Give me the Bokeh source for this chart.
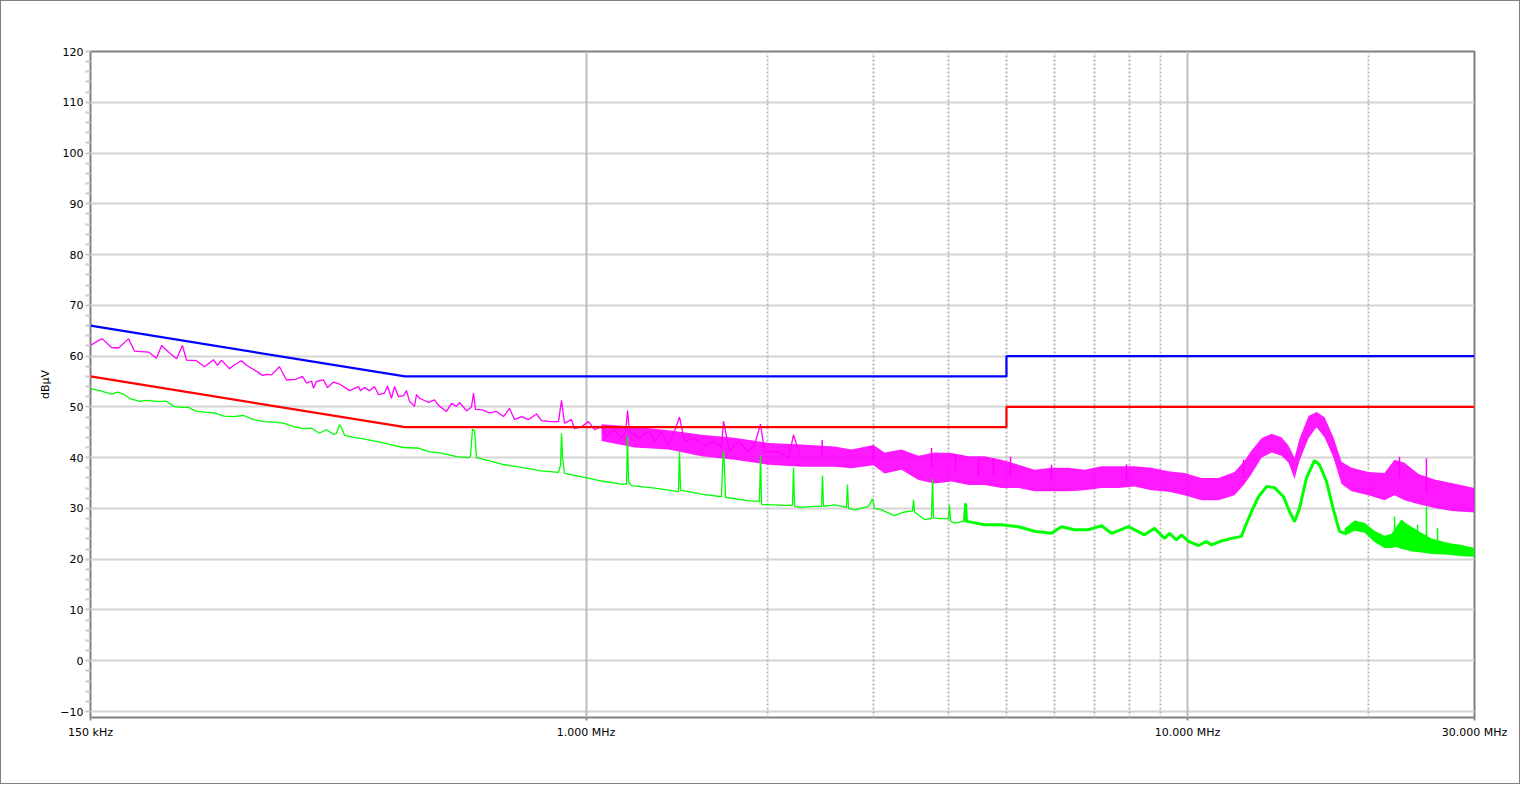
import numpy as np
from bokeh.plotting import figure
from bokeh.models import Range1d, FixedTicker, Grid
from bokeh.embed import file_html
from bokeh.resources import INLINE

# ---------------- data (frequency in MHz, level in dBµV) ----------------
QP_LIMIT_F = [0.15, 0.5, 5.0, 5.0, 30.0]
QP_LIMIT_V = [66.0, 56.0, 56.0, 60.0, 60.0]
AV_LIMIT_F = [0.15, 0.5, 5.0, 5.0, 30.0]
AV_LIMIT_V = [56.0, 46.0, 46.0, 50.0, 50.0]

# Peak trace (magenta), single sweep line
PK_F = [0.1500, 0.1553, 0.1570, 0.1626, 0.1670, 0.1735, 0.1775, 0.1873, 0.1931, 0.1969,
        0.2022, 0.2085, 0.2133, 0.2166, 0.2251, 0.2321, 0.2402, 0.2439, 0.2477, 0.2554,
        0.2603, 0.2674, 0.2726, 0.2832, 0.2898, 0.2942, 0.2999, 0.3092, 0.3177, 0.3288,
        0.3377, 0.3429, 0.3496, 0.3522, 0.3563, 0.3660, 0.3717, 0.3803, 0.3891, 0.4043,
        0.4185, 0.4217, 0.4282, 0.4365, 0.4449, 0.4518, 0.4623, 0.4676, 0.4748, 0.4803,
        0.4877, 0.4971, 0.5029, 0.5087, 0.5185, 0.5225, 0.5285, 0.5471, 0.5598, 0.5685,
        0.5861, 0.5975, 0.6090, 0.6160, 0.6328, 0.6450, 0.6500, 0.6549, 0.6727, 0.6908,
        0.7098, 0.7290, 0.7460, 0.7604, 0.7811, 0.8023, 0.8272, 0.8432, 0.8761, 0.8999,
        0.9103, 0.9208, 0.9458, 0.9567, 0.9828, 1.0094, 1.0329, 1.0610, 1.0814, 1.1151,
        1.1454, 1.1630, 1.1721, 1.1809, 1.2224, 1.2701, 1.2996, 1.3349, 1.3712, 1.4030,
        1.4301, 1.4578, 1.5146, 1.5737, 1.6352, 1.6796, 1.6925, 1.7318, 1.7926, 1.8625,
        1.9057, 1.9501, 1.9801, 2.0892, 2.1708, 2.2126, 2.2640]
PK_V = [62.1, 63.2, 63.4, 61.7, 61.6, 63.4, 61.0, 60.8, 59.6, 62.1,
        60.8, 59.5, 62.1, 59.2, 59.1, 57.9, 59.3, 58.2, 59.2, 57.5,
        58.3, 59.1, 58.2, 57.0, 56.2, 56.4, 56.3, 57.9, 55.3, 55.4,
        56.0, 54.7, 55.1, 53.7, 55.0, 55.3, 53.8, 54.9, 54.5, 53.2,
        54.0, 53.2, 53.8, 53.2, 54.0, 52.4, 52.7, 54.1, 51.7, 54.0,
        52.0, 52.2, 53.2, 51.1, 50.1, 52.4, 51.7, 50.9, 51.4, 50.3,
        49.1, 50.7, 50.1, 50.9, 49.2, 50.0, 52.7, 49.5, 49.4, 48.8,
        49.1, 48.1, 49.7, 47.5, 48.1, 47.5, 48.6, 47.3, 47.1, 47.1,
        51.3, 46.8, 47.5, 45.7, 46.1, 47.1, 45.5, 46.1, 44.2, 45.5,
        43.8, 45.0, 49.3, 45.2, 43.8, 45.3, 43.2, 45.2, 42.5, 45.2,
        48.0, 43.2, 43.8, 42.5, 43.2, 42.0, 47.2, 41.2, 43.2, 41.2,
        42.5, 46.6, 41.2, 41.2, 39.9, 44.5, 40.6]

# Peak trace dense-noise envelope (upper / lower edge of the band)
PK_BAND_F = [1.061, 1.2038, 1.3712, 1.5558, 1.7653, 2.0107, 2.2815, 2.5888, 2.7629, 3.0055,
             3.1347, 3.3457, 3.5706, 3.7960, 4.0515, 4.3238, 4.5971, 4.9063, 5.2360, 5.5668,
             5.9412, 6.3407, 6.7411, 7.1946, 7.6782, 8.1629, 8.7124, 9.2981, 9.8851, 10.550,
             11.259, 11.970, 12.438, 12.776, 13.275, 13.793, 14.331, 14.720, 15.061, 15.352,
             15.891, 16.385, 16.894, 17.484, 18.031, 18.735, 19.994, 21.256, 22.086, 22.948,
             24.212, 25.740, 27.473, 30.0]
PK_BAND_HI = [46.6, 46.1, 45.4, 44.5, 43.9, 42.9, 42.6, 42.2, 41.6, 42.5,
              41.0, 41.6, 40.4, 41.0, 40.9, 40.3, 40.3, 39.6, 38.6, 37.6,
              38.0, 38.0, 37.6, 38.3, 38.3, 38.3, 38.0, 37.3, 37.0, 36.0,
              36.0, 37.2, 39.4, 41.4, 43.8, 44.7, 44.0, 42.4, 40.0, 43.7,
              48.2, 49.0, 48.0, 44.0, 39.2, 38.0, 37.2, 37.0, 39.6, 39.0,
              36.8, 35.7, 35.0, 34.0]
PK_BAND_LO = [43.3, 42.0, 41.6, 40.3, 39.6, 38.6, 38.2, 38.2, 37.9, 38.5,
              36.9, 37.6, 35.6, 34.9, 35.3, 34.6, 34.6, 34.0, 34.0, 33.4,
              33.4, 33.4, 33.6, 34.0, 34.0, 34.3, 33.6, 33.3, 32.6, 31.6,
              31.6, 32.6, 34.8, 36.8, 40.0, 41.0, 40.4, 39.0, 35.8, 39.4,
              43.8, 46.0, 44.0, 40.0, 34.8, 33.4, 32.6, 31.6, 32.6, 31.6,
              30.8, 30.1, 29.5, 29.2]

# Isolated peak spikes above the band
PK_SPK_F = [2.470, 3.002, 3.753, 4.114, 4.493, 4.758, 5.078, 5.941, 7.917, 12.39, 22.51, 24.96]
PK_SPK_TOP = [43.5, 42.2, 41.9, 40.6, 39.9, 39.9, 40.2, 38.6, 38.7, 39.6, 40.2, 39.9]
PK_SPK_BASE = [40.5, 39.5, 38.0, 37.5, 36.5, 36.5, 36.5, 35.5, 35.5, 36.0, 36.0, 33.0]

# Average trace (green)
AV_F = [0.1500, 0.1553, 0.1626, 0.1664, 0.1702, 0.1742, 0.1810, 0.1858, 0.1931, 0.2007,
        0.2061, 0.2125, 0.2183, 0.2251, 0.2339, 0.2411, 0.2496, 0.2593, 0.2694, 0.2800,
        0.2909, 0.3022, 0.3140, 0.3263, 0.3390, 0.3496, 0.3604, 0.3701, 0.3803, 0.3847,
        0.3891, 0.3936, 0.3966, 0.4105, 0.4266, 0.4432, 0.4605, 0.4785, 0.4971, 0.5185,
        0.5265, 0.5471, 0.5750, 0.6090, 0.6376, 0.6425, 0.6475, 0.6525, 0.6575, 0.6884,
        0.7318, 0.7811, 0.8432, 0.8999, 0.9068, 0.9103, 0.9138, 0.9208, 0.9941, 1.0610,
        1.1454, 1.1674, 1.1721, 1.1766, 1.1901, 1.2996, 1.4246, 1.4301, 1.4356, 1.5558,
        1.6796, 1.6860, 1.6925, 1.6990, 1.7055, 1.8625, 1.9426, 1.9501, 1.9576, 2.1376,
        2.2042, 2.2126, 2.2211, 2.2640, 2.3979, 2.4630, 2.4724, 2.4819, 2.5888, 2.7103,
        2.7208, 2.7312, 2.7949, 2.9487, 2.9942, 3.0172, 3.0991, 3.2570, 3.3841, 3.4896,
        3.5030, 3.5164, 3.6535, 3.7528, 3.7672, 3.7817, 3.8546, 4.0051, 4.0205, 4.0360,
        4.0981, 4.2578, 4.2742, 4.2906, 4.3238, 4.5971, 4.9063, 5.2360, 5.5668, 5.9412,
        6.1731, 6.4880, 6.8452, 7.1946, 7.4754, 7.9779, 8.4818, 8.8128, 9.1566, 9.3338,
        9.5863, 9.7727, 10.037, 10.430, 10.752, 10.962, 11.390, 11.834, 12.296, 12.438,
        12.776, 13.122, 13.532, 13.951, 14.441, 14.776, 15.061, 15.352, 15.767, 16.257,
        16.574, 17.025, 17.484, 17.894, 18.239]
AV_V = [53.6, 53.2, 52.5, 52.9, 52.5, 51.7, 51.1, 51.3, 51.1, 51.1,
        50.1, 49.9, 49.9, 49.1, 48.9, 48.8, 48.2, 48.1, 48.3, 47.5,
        47.1, 47.0, 46.8, 46.1, 45.7, 45.8, 44.8, 45.5, 44.6, 44.8,
        46.5, 45.5, 44.4, 44.0, 43.7, 43.3, 42.9, 42.4, 42.0, 41.9,
        41.9, 41.2, 40.9, 40.2, 40.0, 40.3, 45.6, 45.3, 40.0, 39.4,
        38.6, 38.1, 37.4, 37.1, 38.5, 44.8, 40.0, 36.9, 36.1, 35.4,
        34.8, 34.8, 44.2, 35.2, 34.5, 34.0, 33.3, 41.3, 33.6, 32.8,
        32.3, 38.0, 41.2, 38.0, 32.2, 31.5, 31.4, 40.4, 30.8, 30.6,
        30.6, 38.0, 30.5, 30.2, 30.4, 30.4, 36.5, 30.4, 30.7, 30.2,
        34.7, 30.0, 29.7, 30.4, 31.9, 30.0, 29.7, 28.6, 29.3, 29.5,
        31.7, 29.3, 27.8, 28.0, 35.8, 28.2, 28.0, 28.0, 30.7, 27.5,
        27.1, 27.5, 31.0, 27.5, 27.4, 26.8, 26.8, 26.4, 25.5, 25.1,
        26.4, 25.8, 25.8, 26.6, 25.1, 26.4, 24.8, 26.1, 24.1, 25.1,
        23.8, 24.8, 23.5, 22.7, 23.5, 22.8, 23.6, 24.1, 24.5, 26.1,
        29.4, 32.3, 34.3, 34.1, 32.3, 29.4, 27.4, 30.0, 36.0, 39.4,
        38.6, 35.3, 29.7, 25.5, 25.1]

# Average trace envelope above 18 MHz
AV_BAND_F = [18.239, 18.950, 19.690, 20.458, 21.256, 21.834, 22.256, 22.687, 23.125, 23.572,
             24.492, 25.447, 27.159, 28.545, 30.0]
AV_BAND_HI = [26.0, 27.6, 27.2, 25.6, 24.6, 25.0, 26.5, 27.8, 27.0, 26.4,
              25.2, 24.1, 23.2, 22.8, 22.2]
AV_BAND_LO = [24.6, 25.6, 25.2, 23.4, 22.2, 22.2, 22.4, 22.0, 21.8, 21.5,
              21.3, 21.0, 20.9, 20.6, 20.5]

AV_SPK_F = [22.09, 24.12, 24.96, 26.04]
AV_SPK_TOP = [28.4, 26.8, 30.4, 26.1]
AV_SPK_BASE = [25.0, 23.5, 22.5, 22.0]

# axes
X_TICKS = [0.15, 1, 10, 30]
X_TICK_LABELS = ["150 kHz", "1.000 MHz", "10.000 MHz", "30.000 MHz"]
X_GRID_MAJOR = [1, 10]
X_GRID_MINOR = [2, 3, 4, 5, 6, 7, 8, 9, 20]
Y_TICKS = [-10, 0, 10, 20, 30, 40, 50, 60, 70, 80, 90, 100, 110, 120]
Y_MINOR = [v for v in range(-10, 121, 2) if v % 10 != 0]

MAGENTA = "#ff00ff"
GREEN = "#00ff00"
FONT = "DejaVu Sans"

# ---------------- figure ----------------
p = figure(width=1520, height=784, x_axis_type="log",
           x_range=Range1d(0.15, 30), y_range=Range1d(-11.18, 120),
           output_backend="svg", toolbar_location=None,
           min_border_left=89, min_border_right=47, min_border_top=50, min_border_bottom=68)
p.background_fill_color = "white"
p.border_fill_color = "white"
p.outline_line_color = "#808080"
p.outline_line_width = 2
p.styles = {"border": "1px solid #808080"}

p.xgrid.visible = False
p.ygrid.ticker = FixedTicker(ticks=Y_TICKS)
p.ygrid.grid_line_color = "#d4d4d4"
p.ygrid.grid_line_width = 2

g_major = Grid(dimension=0, ticker=FixedTicker(ticks=X_GRID_MAJOR),
               grid_line_color="#bdbdbd", grid_line_width=2)
g_minor = Grid(dimension=0, ticker=FixedTicker(ticks=X_GRID_MINOR),
               grid_line_color="#b8b8b8", grid_line_width=2, grid_line_dash="2 2")
p.add_layout(g_major)
p.add_layout(g_minor)

xa = p.xaxis[0]
xa.ticker = FixedTicker(ticks=X_TICKS, minor_ticks=[])
xa.major_label_overrides = dict(zip(X_TICKS, X_TICK_LABELS))
xa.axis_line_color = None
xa.major_tick_in = 0
xa.major_tick_out = 3
xa.major_tick_line_color = "#909090"
xa.major_tick_line_width = 2
xa.minor_tick_line_color = None
xa.major_label_standoff = 5
xa.major_label_text_font = FONT
xa.major_label_text_font_size = "11px"
xa.major_label_text_color = "#000000"

ya = p.yaxis[0]
ya.ticker = FixedTicker(ticks=Y_TICKS, minor_ticks=Y_MINOR)
ya.axis_line_color = None
ya.major_tick_in = 0
ya.major_tick_out = 5
ya.minor_tick_in = 0
ya.minor_tick_out = 5
ya.major_tick_line_color = "#c8c8c8"
ya.minor_tick_line_color = "#c8c8c8"
ya.major_tick_line_width = 2
ya.minor_tick_line_width = 2
ya.major_label_standoff = 2
ya.major_label_text_font = FONT
ya.major_label_text_font_size = "11px"
ya.major_label_text_color = "#000000"
ya.axis_label = "dBµV"
ya.axis_label_text_font = FONT
ya.axis_label_text_font_size = "11px"
ya.axis_label_text_font_style = "normal"
ya.axis_label_text_color = "#000000"
ya.axis_label_standoff = 5

# ---------------- traces ----------------
p.varea(x=PK_BAND_F, y1=PK_BAND_LO, y2=PK_BAND_HI, fill_color=MAGENTA, fill_alpha=0.9)
p.line(PK_F, PK_V, line_color=MAGENTA, line_width=1.3)
p.segment(x0=PK_SPK_F, y0=PK_SPK_BASE, x1=PK_SPK_F, y1=PK_SPK_TOP,
          line_color=MAGENTA, line_width=1.5)

af = np.asarray(AV_F, dtype=float)
av = np.asarray(AV_V, dtype=float)
p.line(af, av, line_color=GREEN, line_width=1.3)
mm = af >= 4.25
p.line(af[mm], av[mm], line_color=GREEN, line_width=3)
p.varea(x=AV_BAND_F, y1=AV_BAND_LO, y2=AV_BAND_HI, fill_color=GREEN, fill_alpha=1.0)
p.segment(x0=AV_SPK_F, y0=AV_SPK_BASE, x1=AV_SPK_F, y1=AV_SPK_TOP,
          line_color=GREEN, line_width=1.5)

p.line(AV_LIMIT_F, AV_LIMIT_V, line_color="#ff0000", line_width=2.2)
p.line(QP_LIMIT_F, QP_LIMIT_V, line_color="#0000ff", line_width=2.2)

open("out.html", "w").write(file_html(p, INLINE))
